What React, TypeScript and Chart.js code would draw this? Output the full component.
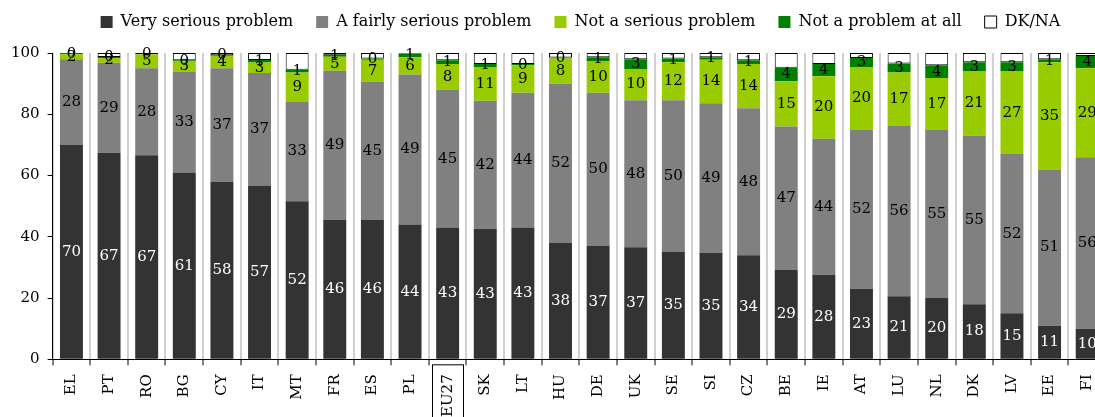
import React, { useEffect, useRef } from "react";
import { Chart, registerables } from "chart.js";

Chart.register(...registerables);

const categories = ["EL", "PT", "RO", "BG", "CY", "IT", "MT", "FR", "ES", "PL", "EU27", "SK", "LT", "HU", "DE", "UK", "SE", "SI", "CZ", "BE", "IE", "AT", "LU", "NL", "DK", "LV", "EE", "FI"];
const seriesNames = ["Very serious problem", "A fairly serious problem", "Not a serious problem", "Not a problem at all", "DK/NA"];
const verySerious = [70, 67.4, 66.6, 61, 58, 56.6, 51.6, 45.6, 45.6, 44, 43, 42.6, 43, 38, 37, 36.6, 35, 34.8, 34, 29.2, 27.6, 23, 20.6, 20, 18, 15, 11, 10];
const fairlySerious = [28, 29.4, 28.4, 33, 37, 36.9, 32.6, 48.6, 45, 49, 45, 41.8, 44, 52, 50, 48, 49.6, 48.8, 48, 46.8, 44.4, 52, 55.6, 55, 55, 52, 51, 56];
const notSerious = [1.6, 1.6, 4.6, 3.4, 4, 3.4, 9.4, 4.6, 7.2, 5.6, 8.4, 11, 9, 8.2, 10.4, 10.2, 12.4, 14.2, 14.4, 14.8, 20.4, 20.4, 17.4, 16.8, 21, 27, 35, 29];
const notAtAll = [0.4, 0.3, 0, 0.2, 0.3, 0.8, 0.9, 0.6, 0.4, 1.2, 1.2, 1, 0.4, 0.3, 1.2, 3.2, 1.2, 0.8, 1.2, 4.4, 4, 3, 3, 4.2, 3, 3, 1, 4];
const dkNa = [0, 1.3, 0.4, 2.4, 0.7, 2.3, 5.5, 0.6, 1.8, 0.2, 2.4, 3.6, 3.6, 1.5, 1.4, 2, 1.8, 1.4, 2.4, 4.8, 3.6, 1.6, 3.4, 4, 3, 3, 2, 1];
const yMin = 0;
const yMax = 100;
const yStep = 20;
const boxedCategory = "EU27";

const FONT = '"DejaVu Serif", serif';

const segmentLabels = {
  id: "segmentLabels",
  afterDatasetsDraw(chart: any) {
    const ctx = chart.ctx;
    ctx.save();
    ctx.font = `15px ${FONT}`;
    ctx.textAlign = "center";
    ctx.textBaseline = "middle";
    for (let d = 0; d < 4; d++) {
      const meta = chart.getDatasetMeta(d);
      meta.data.forEach((el: any, i: number) => {
        const v = chart.data.datasets[d].data[i];
        const p = el.getProps(["x", "y", "base"], true);
        ctx.fillStyle = d === 0 ? "#ffffff" : "#000000";
        ctx.fillText(String(Math.round(v)), p.x, (p.y + p.base) / 2);
      });
    }
    ctx.restore();
  },
};

const boxedLabel = {
  id: "boxedLabel",
  afterDraw(chart: any) {
    const xs = chart.scales.x;
    const idx = categories.indexOf(boxedCategory);
    if (idx < 0) return;
    const cx = xs.getPixelForValue(idx);
    const ctx = chart.ctx;
    ctx.save();
    ctx.strokeStyle = "#000";
    ctx.lineWidth = 1;
    ctx.strokeRect(Math.round(cx - 16) + 0.5, xs.top + 5.5, 31, 80);
    ctx.restore();
  },
};

const legendShift = {
  id: "legendShift",
  afterLayout(chart: any) {
    const lg = chart.legend;
    if (!lg) return;
    const dx = 26;
    const dy = -13;
    lg.left += dx;
    lg.right += dx;
    lg.top += dy;
    lg.bottom += dy;
  },
};

export default function App() {
  const ref = useRef<HTMLCanvasElement>(null);
  useEffect(() => {
    if (!ref.current) return;
    Chart.defaults.font.family = FONT;
    Chart.defaults.color = "#000";
    const common = { categoryPercentage: 1, barPercentage: 0.61, borderSkipped: false as any };
    const chart = new Chart(ref.current, {
      type: "bar",
      data: {
        labels: categories,
        datasets: [
          { label: seriesNames[0], data: verySerious, backgroundColor: "#333333", borderWidth: 0, ...common },
          { label: seriesNames[1], data: fairlySerious, backgroundColor: "#808080", borderWidth: 0, ...common },
          { label: seriesNames[2], data: notSerious, backgroundColor: "#99cc00", borderWidth: 0, ...common },
          { label: seriesNames[3], data: notAtAll, backgroundColor: "#008000", borderWidth: 0, ...common },
          { label: seriesNames[4], data: dkNa, backgroundColor: "#ffffff", borderColor: "#000000", borderWidth: 1, ...common },
        ],
      },
      options: {
        animation: false,
        responsive: false,
        layout: { padding: { left: 3, right: 14, top: 4, bottom: 0 } },
        plugins: {
          legend: {
            position: "top",
            labels: {
              boxWidth: 12,
              boxHeight: 12,
              padding: 23,
              color: "#000",
              font: { size: 16, family: FONT },
            },
          },
          tooltip: { enabled: false },
        },
        scales: {
          x: {
            stacked: true,
            offset: true,
            grid: {
              display: true,
              offset: true,
              color: "#d0d0d0",
              lineWidth: 2,
              drawOnChartArea: true,
              drawTicks: true,
              tickLength: 6,
              tickColor: "#000",
              tickWidth: 1,
            },
            border: { display: true, color: "#000", width: 1 },
            ticks: {
              autoSkip: false,
              maxRotation: 90,
              minRotation: 90,
              padding: 9,
              color: "#000",
              font: { size: 15, family: FONT },
            },
          },
          y: {
            stacked: true,
            min: yMin,
            max: yMax,
            grid: {
              display: true,
              drawOnChartArea: false,
              drawTicks: true,
              tickLength: 5,
              tickColor: "#000",
            },
            border: { display: true, color: "#000", width: 1 },
            ticks: {
              stepSize: yStep,
              padding: 8,
              color: "#000",
              font: { size: 15, family: FONT },
            },
          },
        },
      },
      plugins: [segmentLabels, boxedLabel, legendShift],
    });
    return () => chart.destroy();
  }, []);
  return (
    <div style={{ position: "absolute", left: 0, top: 0, width: 1095, height: 417, overflow: "hidden", background: "#fff" }}>
      <canvas ref={ref} width={1120} height={426} style={{ display: "block" }} />
    </div>
  );
}
